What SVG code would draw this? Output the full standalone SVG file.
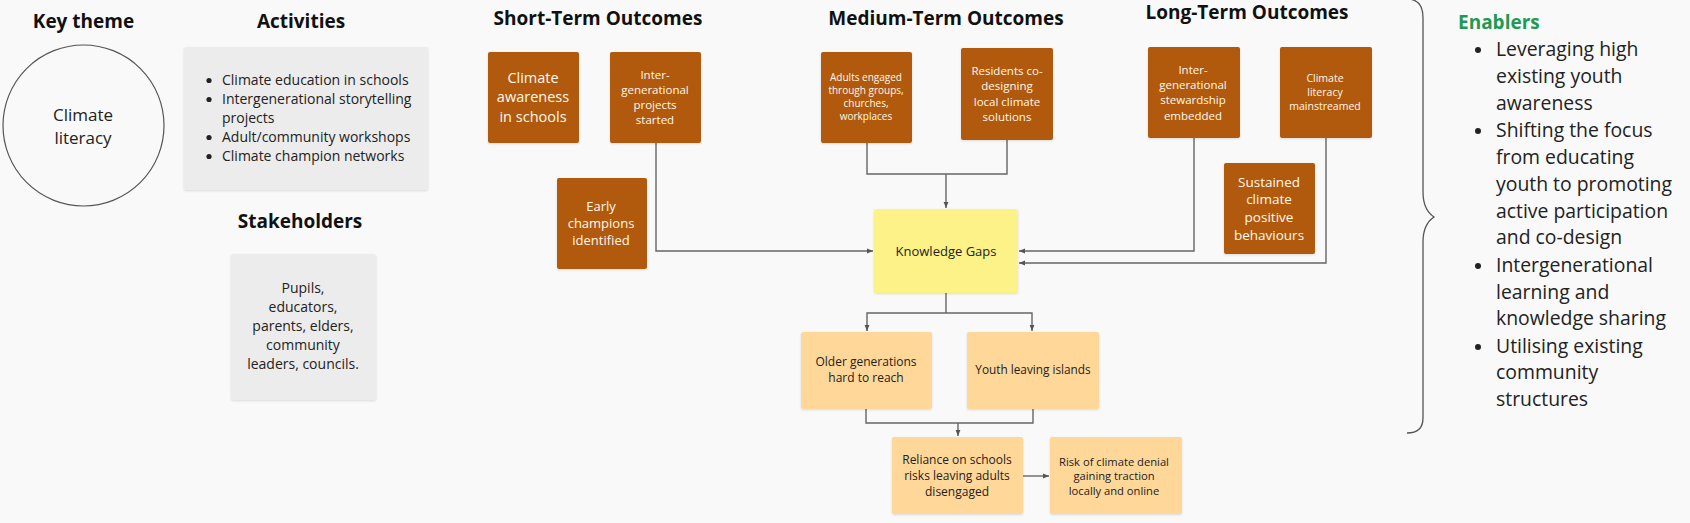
<svg xmlns="http://www.w3.org/2000/svg" width="1690" height="523" viewBox="0 0 1690 523">
  <defs>
    <marker id="arrow" viewBox="0 0 6 6" refX="6" refY="3" markerWidth="6" markerHeight="6" markerUnits="userSpaceOnUse" orient="auto">
      <path d="M0,0.6 L6,3 L0,5.4 Z" fill="#555"/>
    </marker>
    <filter id="shadow" x="-10%" y="-10%" width="120%" height="125%">
      <feDropShadow dx="0" dy="1" stdDeviation="1" flood-color="#000" flood-opacity="0.12"/>
    </filter>
  </defs>
  <style>
    text { font-family: "Open Sans", "Liberation Sans", sans-serif; }
    .title { font-size: 19px; font-weight: 700; fill: #111; text-anchor: middle; }
    .body { fill: #222; }
    .mid { text-anchor: middle; }
    .light { fill: #fff8ec; text-anchor: middle; }
    .brown { fill: #b15a10; filter: url(#shadow); }
    .grey { fill: #ececec; filter: url(#shadow); }
    .yellow { fill: #fdf287; filter: url(#shadow); }
    .peach { fill: #ffd799; filter: url(#shadow); }
    .wire { fill: none; stroke: #666; stroke-width: 1.4; }
    .bullet { fill: #222; }
  </style>

  <rect width="1690" height="523" fill="#f9f9f9"/>

  <!-- column headings -->
  <g id="headings">
    <text class="title" x="83.5" y="28">Key theme</text>
    <text class="title" x="301" y="28">Activities</text>
    <text class="title" x="300" y="228">Stakeholders</text>
    <text class="title" x="598" y="25">Short-Term Outcomes</text>
    <text class="title" x="946" y="25">Medium-Term Outcomes</text>
    <text class="title" x="1247" y="19">Long-Term Outcomes</text>
  </g>

  <!-- key theme -->
  <g id="key-theme">
    <circle cx="83.5" cy="125.5" r="80.5" fill="none" stroke="#555" stroke-width="1.2"/>
    <text class="body mid" x="83" y="121" font-size="17">Climate</text>
    <text class="body mid" x="83" y="144" font-size="17">literacy</text>
  </g>

  <!-- activities -->
  <g id="activities">
    <rect class="grey" x="184" y="47" width="244" height="143" rx="2"/>
    <g class="body" font-size="14">
      <circle class="bullet" cx="209" cy="80.5" r="2.6"/>
      <text x="222" y="85">Climate education in schools</text>
      <circle class="bullet" cx="209" cy="99.5" r="2.6"/>
      <text x="222" y="104">Intergenerational storytelling</text>
      <text x="222" y="123">projects</text>
      <circle class="bullet" cx="209" cy="137.5" r="2.6"/>
      <text x="222" y="142">Adult/community workshops</text>
      <circle class="bullet" cx="209" cy="156.5" r="2.6"/>
      <text x="222" y="161">Climate champion networks</text>
    </g>
  </g>

  <!-- stakeholders -->
  <g id="stakeholders">
    <rect class="grey" x="231" y="254" width="145" height="146" rx="2"/>
    <g class="body mid" font-size="14">
      <text x="303" y="293">Pupils,</text>
      <text x="303" y="312">educators,</text>
      <text x="303" y="331">parents, elders,</text>
      <text x="303" y="350">community</text>
      <text x="303" y="369">leaders, councils.</text>
    </g>
  </g>

  <!-- connectors -->
  <g id="connectors">
    <path class="wire" d="M656,143 V251 H873" marker-end="url(#arrow)"/>
    <path class="wire" d="M867,143 V174 H1007 V140"/>
    <path class="wire" d="M946,174 V208" marker-end="url(#arrow)"/>
    <path class="wire" d="M1194,138 V251 H1019" marker-end="url(#arrow)"/>
    <path class="wire" d="M1326,138 V263 H1019" marker-end="url(#arrow)"/>
    <path class="wire" d="M946,293 V313"/>
    <path class="wire" d="M946,313 H867 V331" marker-end="url(#arrow)"/>
    <path class="wire" d="M946,313 H1032 V331" marker-end="url(#arrow)"/>
    <path class="wire" d="M866,409 V423 H1033 V409"/>
    <path class="wire" d="M958,423 V436" marker-end="url(#arrow)"/>
    <path class="wire" d="M1023,476 H1049" stroke="#8a8290" marker-end="url(#arrow)"/>
  </g>

  <!-- short-term outcomes -->
  <g id="st-awareness">
    <rect class="brown" x="488" y="52" width="91" height="91" rx="2"/>
    <g class="light" font-size="14.5">
      <text x="533" y="83">Climate</text>
      <text x="533" y="102">awareness</text>
      <text x="533" y="122">in schools</text>
    </g>
  </g>
  <g id="st-projects">
    <rect class="brown" x="610" y="52" width="91" height="91" rx="2"/>
    <g class="light" font-size="11.5">
      <text x="655" y="79">Inter-</text>
      <text x="655" y="94">generational</text>
      <text x="655" y="109">projects</text>
      <text x="655" y="124">started</text>
    </g>
  </g>
  <g id="st-champions">
    <rect class="brown" x="557" y="178" width="90" height="91" rx="2"/>
    <g class="light" font-size="13">
      <text x="601" y="211">Early</text>
      <text x="601" y="228">champions</text>
      <text x="601" y="245">identified</text>
    </g>
  </g>

  <!-- medium-term outcomes -->
  <g id="mt-adults">
    <rect class="brown" x="821" y="52" width="91" height="91" rx="2"/>
    <g class="light" font-size="10">
      <text x="866" y="81">Adults engaged</text>
      <text x="866" y="94">through groups,</text>
      <text x="866" y="107">churches,</text>
      <text x="866" y="120">workplaces</text>
    </g>
  </g>
  <g id="mt-residents">
    <rect class="brown" x="961" y="48" width="92" height="92" rx="2"/>
    <g class="light" font-size="11.5">
      <text x="1007" y="75">Residents co-</text>
      <text x="1007" y="90">designing</text>
      <text x="1007" y="106">local climate</text>
      <text x="1007" y="121">solutions</text>
    </g>
  </g>

  <!-- long-term outcomes -->
  <g id="lt-stewardship">
    <rect class="brown" x="1148" y="47" width="92" height="91" rx="2"/>
    <g class="light" font-size="11.5">
      <text x="1193" y="74">Inter-</text>
      <text x="1193" y="89">generational</text>
      <text x="1193" y="104">stewardship</text>
      <text x="1193" y="120">embedded</text>
    </g>
  </g>
  <g id="lt-mainstreamed">
    <rect class="brown" x="1280" y="47" width="92" height="91" rx="2"/>
    <g class="light" font-size="10.5">
      <text x="1325" y="82">Climate</text>
      <text x="1325" y="96">literacy</text>
      <text x="1325" y="110">mainstreamed</text>
    </g>
  </g>
  <g id="lt-behaviours">
    <rect class="brown" x="1224" y="163" width="91" height="91" rx="2"/>
    <g class="light" font-size="13.5">
      <text x="1269" y="187">Sustained</text>
      <text x="1269" y="204">climate</text>
      <text x="1269" y="222">positive</text>
      <text x="1269" y="240">behaviours</text>
    </g>
  </g>

  <!-- barriers -->
  <g id="knowledge-gaps">
    <rect class="yellow" x="874" y="209" width="144" height="84" rx="2"/>
    <text class="body mid" x="946" y="256" font-size="13">Knowledge Gaps</text>
  </g>
  <g id="older-generations">
    <rect class="peach" x="801" y="332" width="131" height="77" rx="2"/>
    <g class="body mid" font-size="12">
      <text x="866" y="366">Older generations</text>
      <text x="866" y="382">hard to reach</text>
    </g>
  </g>
  <g id="youth-leaving">
    <rect class="peach" x="967" y="332" width="132" height="77" rx="2"/>
    <text class="body mid" x="1033" y="374" font-size="11.8">Youth leaving islands</text>
  </g>
  <g id="reliance-on-schools">
    <rect class="peach" x="892" y="437" width="131" height="77" rx="2"/>
    <g class="body mid" font-size="12">
      <text x="957" y="464">Reliance on schools</text>
      <text x="957" y="480">risks leaving adults</text>
      <text x="957" y="496">disengaged</text>
    </g>
  </g>
  <g id="climate-denial">
    <rect class="peach" x="1050" y="437" width="132" height="77" rx="2"/>
    <g class="body mid" font-size="11.2">
      <text x="1114" y="466">Risk of climate denial</text>
      <text x="1114" y="480">gaining traction</text>
      <text x="1114" y="495">locally and online</text>
    </g>
  </g>

  <!-- enablers -->
  <g id="enablers">
    <path d="M1407,-1 C1418,-1 1423,6 1423,18 V192 C1423,205 1428,213 1434,217 C1428,221 1423,229 1423,242 V418 C1423,428 1418,433 1407,433" fill="none" stroke="#555" stroke-width="1.3"/>
    <text x="1458" y="29" font-size="19" font-weight="700" fill="#1f9a53">Enablers</text>
    <g class="body" font-size="19.4">
      <circle class="bullet" cx="1478" cy="50" r="3"/>
      <text x="1496" y="56">Leveraging high</text>
      <text x="1496" y="83">existing youth</text>
      <text x="1496" y="110">awareness</text>
      <circle class="bullet" cx="1478" cy="131" r="3"/>
      <text x="1496" y="137">Shifting the focus</text>
      <text x="1496" y="164">from educating</text>
      <text x="1496" y="191">youth to promoting</text>
      <text x="1496" y="218">active participation</text>
      <text x="1496" y="244">and co-design</text>
      <circle class="bullet" cx="1478" cy="266" r="3"/>
      <text x="1496" y="272">Intergenerational</text>
      <text x="1496" y="299">learning and</text>
      <text x="1496" y="325">knowledge sharing</text>
      <circle class="bullet" cx="1478" cy="347" r="3"/>
      <text x="1496" y="353">Utilising existing</text>
      <text x="1496" y="379">community</text>
      <text x="1496" y="406">structures</text>
    </g>
  </g>
</svg>
